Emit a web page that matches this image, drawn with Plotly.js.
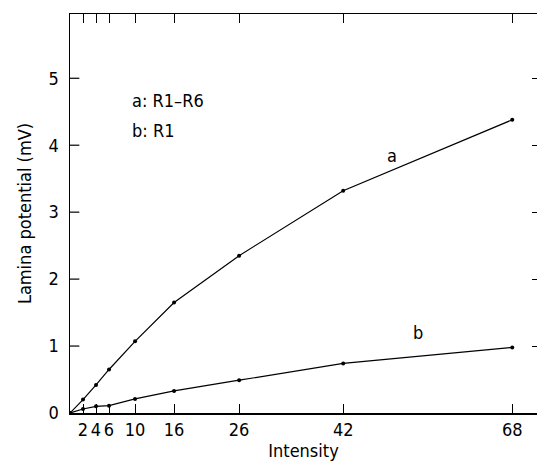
<!DOCTYPE html>
<html><head><script src="https://cdn.plot.ly/plotly-3.0.1.min.js"></script></head>
<body style="margin:0"><div id="c" style="width:551px;height:466px"></div>
<script>
const intensity=[0,2,4,6,10,16,26,42,68];
const seriesA=[0,0.2,0.42,0.65,1.07,1.65,2.35,3.32,4.38];
const seriesB=[0,0.06,0.1,0.11,0.21,0.33,0.49,0.74,0.98];
const xTicks=[2,4,6,10,16,26,42,68];
const yTicks=[0,1,2,3,4,5];
const ln={color:'#000',width:1.2};
const mk={color:'#000',size:4};
const tr=[
 {x:intensity,y:seriesA,mode:'lines+markers',line:ln,marker:mk},
 {x:intensity,y:seriesB,mode:'lines+markers',line:ln,marker:mk},
 {x:[],y:[],yaxis:'y2',mode:'lines'}
];
const f={family:'DejaVu Sans Condensed, DejaVu Sans',size:18,color:'#000'};
Plotly.newPlot('c',tr,{
 width:551,height:466,showlegend:false,
 margin:{l:70,r:14,t:14,b:53},
 font:f,plot_bgcolor:'#fff',paper_bgcolor:'#fff',
 xaxis:{range:[0,71.8],tickvals:xTicks,ticks:'inside',ticklen:9,tickcolor:'#000',showline:true,linecolor:'#000',linewidth:1.5,mirror:'ticks',showgrid:false,zeroline:false,
  tickfont:f,title:{text:'Intensity',font:f,standoff:3}},
 yaxis:{range:[0,5.96],tickvals:yTicks,ticks:'outside',ticklen:6,tickcolor:'rgba(0,0,0,0)',showline:true,linecolor:'#000',linewidth:1.5,showgrid:false,zeroline:false,
  tickfont:f,title:{text:'Lamina potential (mV)',font:f,standoff:12}},
 yaxis2:{overlaying:'y',side:'right',range:[0,5.96],tickvals:yTicks.slice(1),ticks:'inside',ticklen:5,tickcolor:'#000',showticklabels:false,showline:false,showgrid:false,zeroline:false},
 shapes:yTicks.slice(1).map(v=>({type:'line',xref:'paper',yref:'y',x0:0,x1:0.02,y0:v,y1:v,line:{color:'#000',width:1.2}})),
 annotations:[
  {x:0.128,y:0.815,xref:'paper',yref:'paper',text:'a: R1–R6',showarrow:false,xanchor:'left',font:f},
  {x:0.128,y:0.74,xref:'paper',yref:'paper',text:'b: R1',showarrow:false,xanchor:'left',font:f},
  {x:49.5,y:3.85,text:'a',showarrow:false,font:f},
  {x:53.5,y:1.2,text:'b',showarrow:false,font:f}
 ]
},{staticPlot:true});
</script></body></html>
